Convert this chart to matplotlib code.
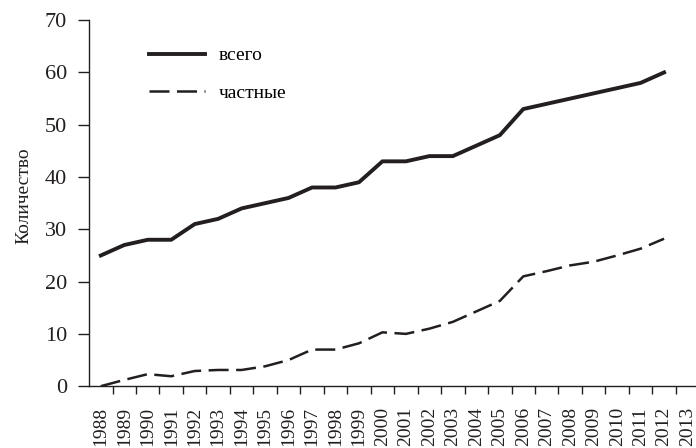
import numpy as np
import matplotlib.pyplot as plt

years = list(range(1988, 2014))
total = [25, 27, 28, 28, 31, 32, 34, 35, 36, 38, 38, 39, 43, 43, 44, 44, 46, 48, 53, 54, 55, 56, 57, 58, 60]
private = [0, 1.2, 2.3, 1.9, 2.9, 3.1, 3.1, 3.8, 5, 7, 7, 8.2, 10.3, 10, 11, 12.3, 14.3, 16.3, 21, 22, 23.1, 23.8, 25, 26.3, 28.2]

plt.rcParams['font.family'] = ['Liberation Serif', 'DejaVu Serif']
ink = '#231f20'

fig = plt.figure(figsize=(6.96, 4.48), dpi=100)
ax = fig.add_axes([0.128, 0.138, 0.872, 0.817])

x = np.arange(len(total))
ax.plot(x, total, color=ink, lw=2.8, label='всего')
ax.plot(x, private, color=ink, lw=1.8, dashes=(8, 3), label='частные')

ax.set_ylim(0, 70)
ax.set_xlim(-0.5, 25.36)
ax.set_yticks(range(0, 71, 10))

##=============== labels between the year separators ====================
ax.set_xticks(np.arange(len(years)))
ax.set_xticklabels([str(y) for y in years], rotation=90, fontsize=14, va='top')
ax.tick_params(axis='x', which='major', length=0, pad=15, colors=ink)
ax.set_xticks(np.arange(0.5, 25, 1.0), minor=True)
ax.tick_params(axis='x', which='minor', length=6, width=1, color=ink)
ax.tick_params(axis='y', length=8, width=1, labelsize=16, colors=ink, pad=8)

for s in ['top', 'right']:
    ax.spines[s].set_visible(False)
for s in ['left', 'bottom']:
    ax.spines[s].set_color(ink)
    ax.spines[s].set_linewidth(1)

ax.set_ylabel('Количество', fontsize=14, color=ink)
ax.yaxis.set_label_coords(-0.094, 0.52)

ax.legend(loc='upper left', bbox_to_anchor=(0.099, 0.927), frameon=False,
          fontsize=14, handlelength=2.85, handletextpad=0.75, labelspacing=1.0,
          borderpad=0, borderaxespad=0)

plt.savefig('out.png', dpi=100)
